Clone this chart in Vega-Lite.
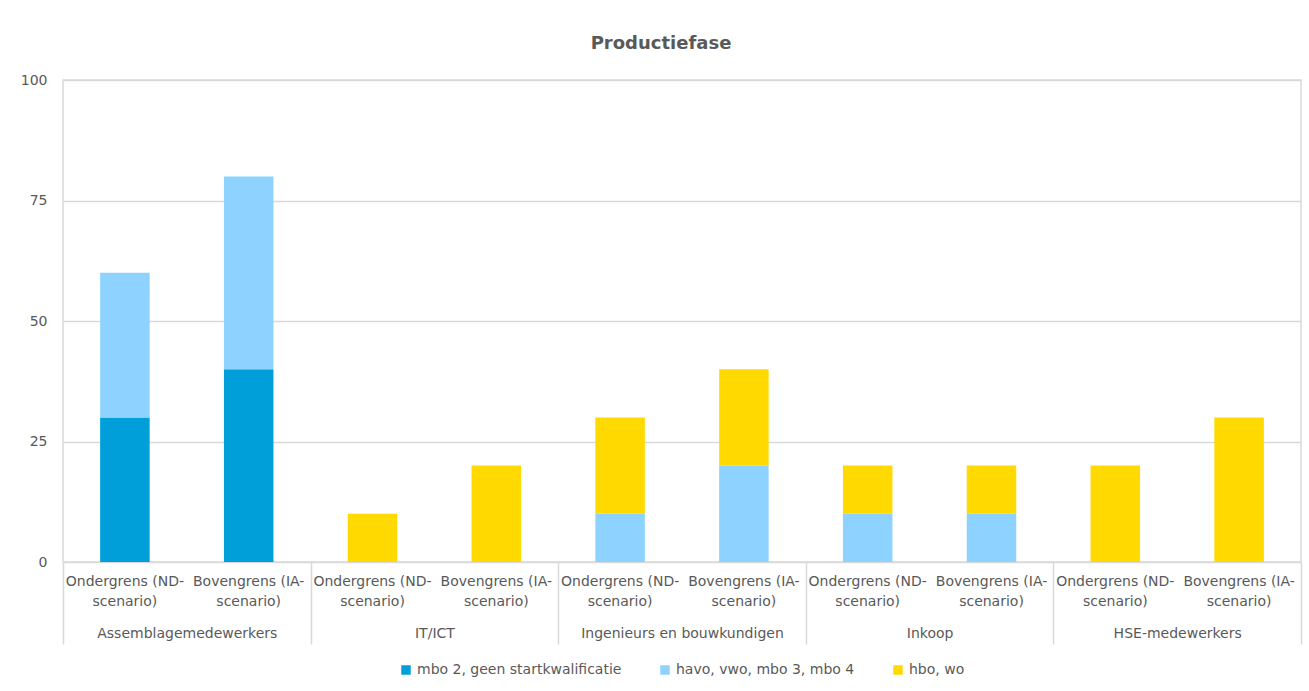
{
  "$schema": "https://vega.github.io/schema/vega-lite/v6.json",
  "width": 1238,
  "height": 482,
  "padding": {"left": 20, "top": 35, "right": 5, "bottom": 5},
  "background": "white",
  "title": {"text": "Productiefase", "fontSize": 18, "font": "DejaVu Sans", "fontWeight": "bold", "color": "#595959", "anchor": "middle", "frame": "bounds", "offset": 20},
  "config": {
    "font": "DejaVu Sans",
    "view": {"stroke": "#d9d9d9", "strokeWidth": 1.5},
    "axis": {"labelFont": "DejaVu Sans", "labelColor": "#595959", "labelFontSize": 14},
    "legend": {"layout": {"bottom": {"anchor": "middle"}}}
  },
  "data": {"values": [
    {"group": "Assemblagemedewerkers", "key": "1a", "niveau": "mbo 2, geen startkwalificatie", "niveau_nr": 1, "waarde": 30},
    {"group": "Assemblagemedewerkers", "key": "1a", "niveau": "havo, vwo, mbo 3, mbo 4", "niveau_nr": 2, "waarde": 30},
    {"group": "Assemblagemedewerkers", "key": "1b", "niveau": "mbo 2, geen startkwalificatie", "niveau_nr": 1, "waarde": 40},
    {"group": "Assemblagemedewerkers", "key": "1b", "niveau": "havo, vwo, mbo 3, mbo 4", "niveau_nr": 2, "waarde": 40},
    {"group": "IT/ICT", "key": "2a", "niveau": "hbo, wo", "niveau_nr": 3, "waarde": 10},
    {"group": "IT/ICT", "key": "2b", "niveau": "hbo, wo", "niveau_nr": 3, "waarde": 20},
    {"group": "Ingenieurs en bouwkundigen", "key": "3a", "niveau": "havo, vwo, mbo 3, mbo 4", "niveau_nr": 2, "waarde": 10},
    {"group": "Ingenieurs en bouwkundigen", "key": "3a", "niveau": "hbo, wo", "niveau_nr": 3, "waarde": 20},
    {"group": "Ingenieurs en bouwkundigen", "key": "3b", "niveau": "havo, vwo, mbo 3, mbo 4", "niveau_nr": 2, "waarde": 20},
    {"group": "Ingenieurs en bouwkundigen", "key": "3b", "niveau": "hbo, wo", "niveau_nr": 3, "waarde": 20},
    {"group": "Inkoop", "key": "4a", "niveau": "havo, vwo, mbo 3, mbo 4", "niveau_nr": 2, "waarde": 10},
    {"group": "Inkoop", "key": "4a", "niveau": "hbo, wo", "niveau_nr": 3, "waarde": 10},
    {"group": "Inkoop", "key": "4b", "niveau": "havo, vwo, mbo 3, mbo 4", "niveau_nr": 2, "waarde": 10},
    {"group": "Inkoop", "key": "4b", "niveau": "hbo, wo", "niveau_nr": 3, "waarde": 10},
    {"group": "HSE-medewerkers", "key": "5a", "niveau": "hbo, wo", "niveau_nr": 3, "waarde": 20},
    {"group": "HSE-medewerkers", "key": "5b", "niveau": "hbo, wo", "niveau_nr": 3, "waarde": 30}
  ]},
  "layer": [
    {
      "mark": {"type": "bar"},
      "encoding": {
        "x": {"field": "key", "type": "nominal", "sort": null,
          "scale": {"paddingInner": 0.6, "paddingOuter": 0.3},
          "axis": {"orient": "bottom", "title": null, "domain": false, "ticks": false, "labelAngle": 0, "labelPadding": 12, "labelLineHeight": 20, "labelBaseline": "top", "labelLimit": 0,
            "labelExpr": "test(/a$/, datum.value) ? ['Ondergrens (ND-', 'scenario)'] : ['Bovengrens (IA-', 'scenario)']"}},
        "y": {"field": "waarde", "type": "quantitative", "aggregate": "sum", "stack": "zero",
          "scale": {"domain": [0, 100]},
          "axis": {"title": null, "values": [0, 25, 50, 75, 100], "domain": false, "ticks": false, "labelPadding": 16, "gridColor": "#d9d9d9", "gridWidth": 1.5}},
        "color": {"field": "niveau", "type": "nominal",
          "sort": ["mbo 2, geen startkwalificatie", "havo, vwo, mbo 3, mbo 4", "hbo, wo"],
          "scale": {"domain": ["mbo 2, geen startkwalificatie", "havo, vwo, mbo 3, mbo 4", "hbo, wo"], "range": ["#009FDA", "#8ED3FF", "#FFD900"]},
          "legend": {"title": null, "orient": "bottom", "direction": "horizontal", "symbolType": "square", "symbolSize": 90, "symbolStrokeWidth": 0, "labelFontSize": 14, "labelColor": "#595959", "labelLimit": 0, "columnPadding": 36, "offset": 18}},
        "order": {"field": "niveau_nr", "type": "quantitative", "sort": "ascending"}
      }
    },
    {
      "mark": {"type": "rule", "opacity": 0},
      "encoding": {
        "x": {"field": "group", "type": "nominal", "sort": null,
          "scale": {"paddingInner": 0, "paddingOuter": 0},
          "axis": {"orient": "bottom", "title": null, "domain": false, "tickBand": "extent", "tickSize": 82, "tickColor": "#d9d9d9", "tickWidth": 1.5, "labelAngle": 0, "labelPadding": -11, "labelBaseline": "middle", "labelLimit": 0}}
      }
    }
  ],
  "resolve": {"scale": {"x": "independent"}, "axis": {"x": "independent"}}
}
